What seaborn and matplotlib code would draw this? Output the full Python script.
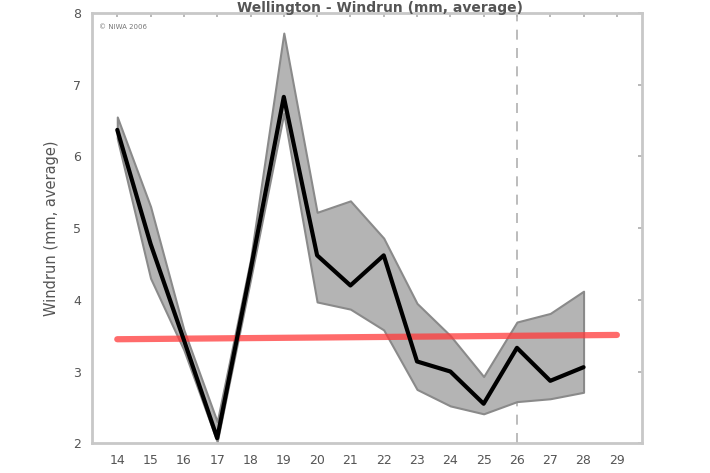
import matplotlib
matplotlib.use("Agg")
import matplotlib.pyplot as plt
import seaborn as sns
import pandas as pd

# Windrun (mm, average), Wellington
days = [14, 15, 16, 17, 18, 19, 20, 21, 22, 23, 24, 25, 26, 27, 28]
mean_run = [6.37, 4.78, 3.44, 2.07, 4.41, 6.83, 4.62, 4.2, 4.62, 3.14, 3.0, 2.55, 3.33, 2.87, 3.06]
upper_run = [6.55, 5.3, 3.58, 2.3, 4.56, 7.72, 5.22, 5.38, 4.86, 3.95, 3.5, 2.93, 3.69, 3.81, 4.12]
lower_run = [6.25, 4.3, 3.3, 2.02, 4.28, 6.6, 3.97, 3.87, 3.58, 2.75, 2.52, 2.41, 2.58, 2.62, 2.71]
trend_days = [14, 29]
trend_vals = [3.45, 3.51]
marker_day = 26

df = pd.DataFrame({"day": days, "mean": mean_run, "upper": upper_run, "lower": lower_run})

sns.set_theme(style="white")
plt.rcParams["font.family"] = ["DejaVu Sans"]

fig = plt.figure(figsize=(7.1, 4.73), dpi=100)
ax = fig.add_axes([0.13, 0.063, 0.774, 0.9095])

# band + reference lines
ax.fill_between(df["day"], df["lower"], df["upper"], facecolor="#b4b4b4",
                edgecolor="#8a8a8a", linewidth=1.5, zorder=1)
ax.axvline(marker_day, color="#b0b0b0", linestyle=(0, (6, 5)), linewidth=1.2, zorder=0)
sns.lineplot(x=trend_days, y=trend_vals, ax=ax, color="#ff3a3a", alpha=0.75,
             linewidth=4.5, zorder=2)
sns.lineplot(data=df, x="day", y="mean", ax=ax, color="black", linewidth=3, zorder=3)

ax.set_xlim(13.25, 29.75)
ax.set_ylim(2, 8)
ax.set_xticks(range(14, 30))
ax.set_yticks(range(2, 9))
ax.tick_params(direction="in", length=3, color="#b0b0b0", labelcolor="#555555",
               labelsize=9, top=True, right=True, pad=8)
for s in ax.spines.values():
    s.set_color("#c8c8c8")
    s.set_linewidth(2)

ax.set_xlabel("")
ax.set_ylabel("Windrun (mm, average)", color="#555555", fontsize=10.5, labelpad=10)
fig.text(0.535, 0.997, "Wellington - Windrun (mm, average)", ha="center", va="top",
         fontsize=10, fontweight="bold", color="#555555")
ax.text(0.012, 0.975, "\u00a9 NIWA 2006", transform=ax.transAxes, fontsize=5,
        color="#777777", va="top", ha="left")

fig.savefig("out.png", dpi=100)
